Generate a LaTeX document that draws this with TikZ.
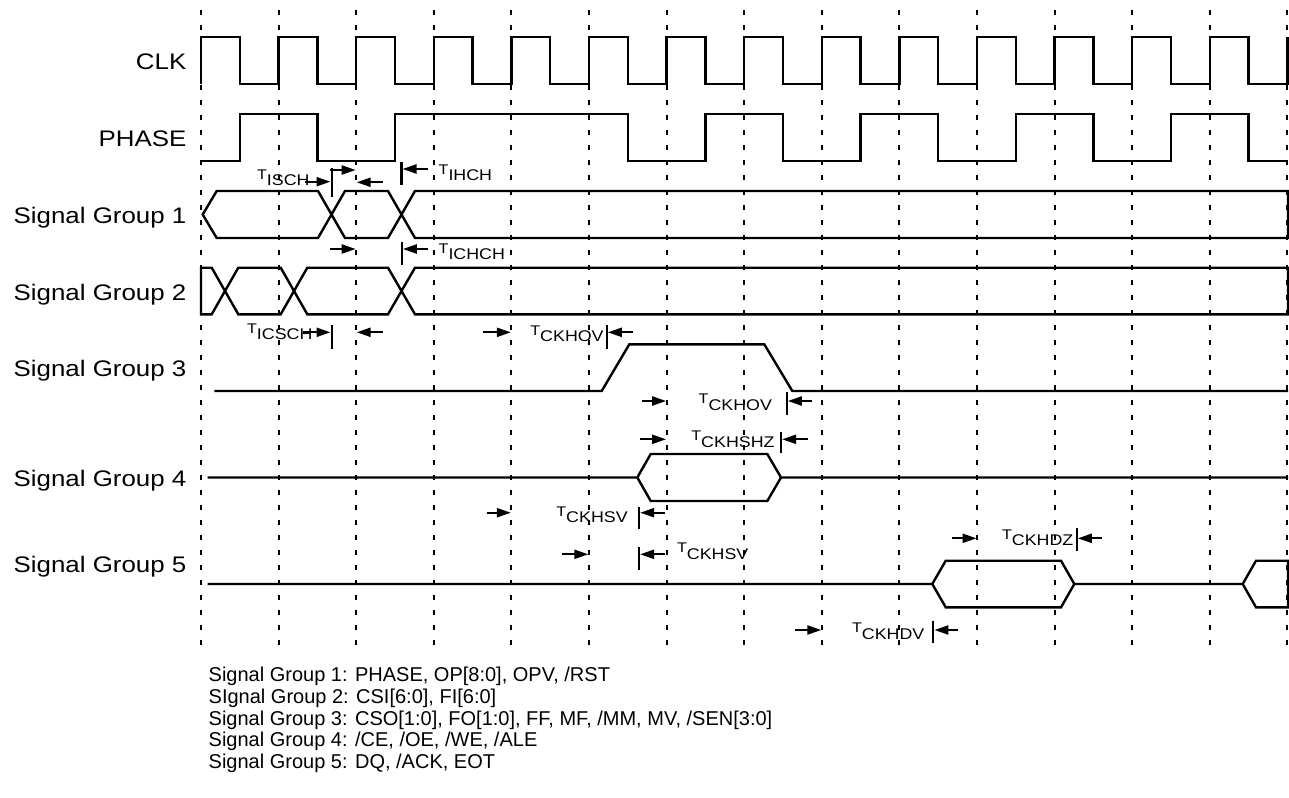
\documentclass[tikz,border=0pt]{standalone}
\usepackage{fontspec}
\setmainfont[FakeStretch=1.15]{Liberation Sans}
\newfontfamily\keyfont{Liberation Sans}
\usetikzlibrary{arrows.meta}

% timing parameter: small T, name set lower
\newcommand{\tparam}[1]{{\fontsize{7pt}{7pt}\selectfont T}\raisebox{-3.35pt}{\fontsize{7.75pt}{7.75pt}\selectfont #1}}

\begin{document}
\begin{tikzpicture}[x=0.5pt,y=-0.5pt,
  wave/.style={line width=1.2pt},
  grid/.style={line width=1pt, dash pattern=on 2.5pt off 5pt},
  tick/.style={line width=1.1pt},
  tarrow/.style={line width=1.1pt, -{Triangle[length=7pt,width=4.5pt]}},
  sig/.style={anchor=base east, inner sep=0pt, font=\fontsize{11.25pt}{11.25pt}\selectfont},
  tlab/.style={anchor=base west, inner sep=0pt},
  key/.style={anchor=base west, inner sep=0pt, font=\keyfont\fontsize{10pt}{10pt}\selectfont}]
\useasboundingbox (0,0) rectangle (1289,797);
% Grid
\foreach \i in {0,...,14}
  \draw[grid] ({201+77.6*\i},10) -- ({201+77.6*\i},645);
% Signal names
\node[sig] (clk) at (186.7,70) {CLK};
\node[sig] (phase) at (186.7,146.7) {PHASE};
\node[sig] (sg1) at (186.7,223.3) {Signal Group 1};
\node[sig] (sg2) at (186.7,300) {Signal Group 2};
\node[sig] (sg3) at (186.7,376.7) {Signal Group 3};
\node[sig] (sg4) at (186.7,486.7) {Signal Group 4};
\node[sig] (sg5) at (186.7,572) {Signal Group 5};
% CLK
\draw[wave] (201,84) \foreach \i in {0,...,13} {-- ++(0,-47) -- ++(38.8,0) -- ++(0,47) -- ++(38.8,0)} -- ++(0,-47);
% PHASE
\draw[wave] (201,161) -| (239.8,114) -| (317.4,161) -| (395,114) -| (627.8,161) -| (705.4,114) -| (783,161) -| (860.6,114) -| (938.2,161) -| (1015.8,114) -| (1093.4,161) -| (1171,114) -| (1248.6,161) -- (1288,161);
% Signal Group 1
\draw[wave] (202.7,214.5) -- (216.7,191) -- (318,191) -- (345,238) -- (388,238) -- (415,191) -- (1288,191) -- (1288,238) -- (415,238) -- (388,191) -- (345,191) -- (318,238) -- (216.7,238) -- cycle;
% Signal Group 2
\draw[wave] (201,267.7) -- (211.7,267.7) -- (238.3,314.3) -- (280.7,314.3) -- (307.3,267.7) -- (388,267.7) -- (415,314.3) -- (1288,314.3) -- (1288,267.7) -- (415,267.7) -- (388,314.3) -- (307.3,314.3) -- (280.7,267.7) -- (238.3,267.7) -- (211.7,314.3) -- (201,314.3) -- cycle;
% Signal Group 3
\draw[wave] (214.3,391) -- (601.7,391) -- (629.3,344.3) -- (764.3,344.3) -- (792.3,391) -- (1288,391);
% Signal Group 4
\draw[wave] (207.7,477.5) -- (637.3,477.5) -- (650.7,454) -- (767.3,454) -- (781,477.5) -- (1288,477.5);
\draw[wave] (637.3,477.5) -- (650.7,501) -- (767.3,501) -- (781,477.5);
% Signal Group 5
\draw[wave] (207.7,584) -- (932.3,584) -- (945.7,560.7) -- (1061,560.7) -- (1074.3,584) -- (1242.7,584) -- (1256,560.7) -- (1288,560.7) -- (1288,607.3) -- (1256,607.3) -- (1242.7,584);
\draw[wave] (932.3,584) -- (945.7,607.3) -- (1061,607.3) -- (1074.3,584);
% Setup / hold, group 1
\node[tlab] (tisch) at (256.7,179) {\tparam{ISCH}};
\draw[tarrow] (305,181.7) -- (330.5,181.7);
\draw[tick] (331.7,168) -- (331.7,197);
\draw[tarrow] (330,170) -- (355.7,170);
\draw[tarrow] (383.3,182.3) -- (356.7,182.3);
\draw[tick] (401.5,162) -- (401.5,185);
\draw[tarrow] (428.3,169) -- (402.5,169);
\node[tlab] (tihch) at (438.3,174) {\tparam{IHCH}};
\draw[tarrow] (330,249) -- (355.7,249);
\draw[tick] (401.7,241.7) -- (401.7,265);
\draw[tarrow] (428,249) -- (402.8,249);
\node[tlab] (tichch) at (438.3,253) {\tparam{ICHCH}};
% Group 2 / group 3
\node[tlab] (ticsch) at (246.7,333) {\tparam{ICSCH}};
\draw[tarrow] (303,332.3) -- (330.5,332.3);
\draw[tick] (331.7,325) -- (331.7,349.3);
\draw[tarrow] (383.3,332.3) -- (356.7,332.3);
\draw[tarrow] (483.3,332.3) -- (510.9,332.3);
\node[tlab] (tckhov) at (530,335) {\tparam{CKHOV}};
\draw[tick] (606.7,325) -- (606.7,349.3);
\draw[tarrow] (633.3,332.3) -- (607.8,332.3);
\draw[tarrow] (641.7,401) -- (666.1,401);
\node[tlab] (tckhovb) at (698.3,403.3) {\tparam{CKHOV}};
\draw[tick] (786.7,391.7) -- (786.7,415);
\draw[tarrow] (811.7,401) -- (787.8,401);
\draw[tarrow] (640,439.3) -- (666.1,439.3);
\node[tlab] (tckhshz) at (691,440.7) {\tparam{CKHSHZ}};
\draw[tick] (781,431.7) -- (781,453.3);
\draw[tarrow] (808.3,439.3) -- (782.1,439.3);
% Group 4
\draw[tarrow] (486.7,512.7) -- (510.9,512.7);
\node[tlab] (tckhsv) at (556,516) {\tparam{CKHSV}};
\draw[tick] (639,506.7) -- (639,529.3);
\draw[tarrow] (665,512.7) -- (640.1,512.7);
\draw[tarrow] (561.7,554.3) -- (588.3,554.3);
\draw[tick] (639,547.3) -- (639,570);
\draw[tarrow] (665,554.3) -- (640.1,554.3);
\node[tlab] (tckhsvb) at (676.7,552.7) {\tparam{CKHSV}};
% Group 5
\draw[tarrow] (951.7,538.3) -- (976.5,538.3);
\node[tlab] (tckhdz) at (1001.7,539) {\tparam{CKHDZ}};
\draw[tick] (1076.7,528.3) -- (1076.7,551);
\draw[tarrow] (1101.7,538.3) -- (1077.8,538.3);
\draw[tarrow] (795,630) -- (821.3,630);
\node[tlab] (tckhdv) at (851.7,632.7) {\tparam{CKHDV}};
\draw[tick] (933.3,620.7) -- (933.3,643.3);
\draw[tarrow] (958.3,630) -- (934.4,630);
% Key
\node[key] (key1) at (208.3,681.7) {Signal Group 1: PHASE, OP[8:0], OPV, /RST};
\node[key] (key2) at (208.3,703.3) {SIgnal Group 2: CSI[6:0], FI[6:0]};
\node[key] (key3) at (208.3,725) {Signal Group 3: CSO[1:0], FO[1:0], FF, MF, /MM, MV, /SEN[3:0]};
\node[key] (key4) at (208.3,746.7) {Signal Group 4: /CE, /OE, /WE, /ALE};
\node[key] (key5) at (208.3,768.3) {Signal Group 5: DQ, /ACK, EOT};
\end{tikzpicture}
\end{document}
